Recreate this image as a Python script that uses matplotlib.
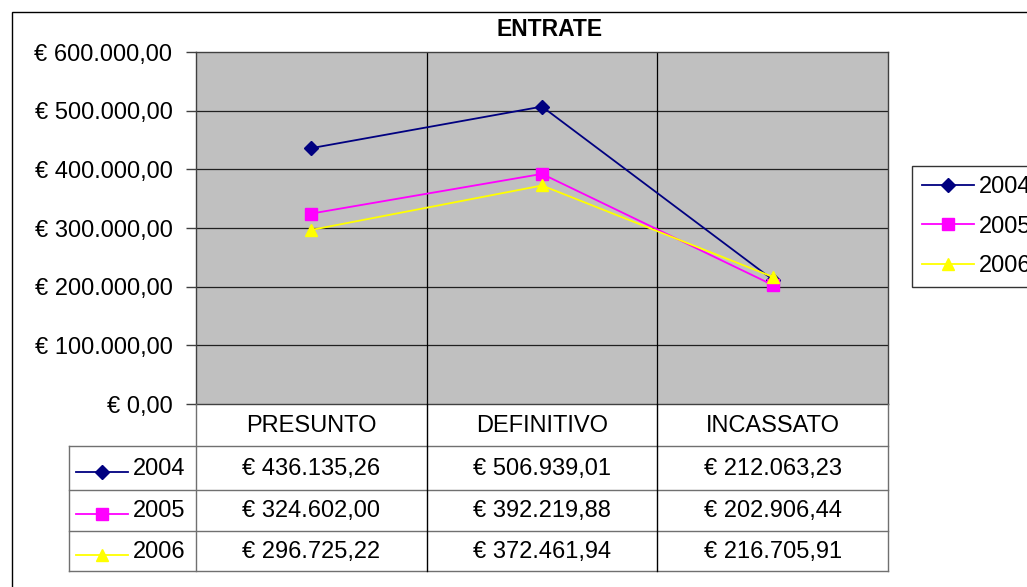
import matplotlib
matplotlib.use("Agg")
import matplotlib.pyplot as plt
from matplotlib.lines import Line2D
from matplotlib.patches import Rectangle

categories = ["PRESUNTO", "DEFINITIVO", "INCASSATO"]
series_names = ["2004", "2005", "2006"]
values_2004 = [436135.26, 506939.01, 212063.23]
values_2005 = [324602.00, 392219.88, 202906.44]
values_2006 = [296725.22, 372461.94, 216705.91]
y_ticks = [0, 100000, 200000, 300000, 400000, 500000, 600000]

series = [values_2004, values_2005, values_2006]
colors = ["#000080", "#FF00FF", "#FFFF00"]
markers = ["D", "s", "^"]
msizes = [7, 8, 8.5]

plt.rcParams['font.family'] = ['Liberation Sans', 'DejaVu Sans']
FS = 17

def eur(v):
    s = f"{v:,.2f}".replace(",", "X").replace(".", ",").replace("X", ".")
    return "€ " + s

W, H = 1027, 587
fig = plt.figure(figsize=(W / 100, H / 100), dpi=100)

def fx(px):
    return px / W

def fy(py):
    return 1 - py / H

# outer chart border
fig.patches.append(Rectangle((fx(12), fy(600)), fx(1040) - fx(12), fy(12) - fy(600),
                             transform=fig.transFigure, fill=False, edgecolor="black",
                             linewidth=1.0))

L, R, T, B = 196, 888, 52, 404
ax = fig.add_axes([fx(L), fy(B), fx(R) - fx(L), fy(T) - fy(B)])
ax.set_facecolor("#C0C0C0")
x = [i + 0.5 for i in range(len(categories))]
for vals, c, m, ms, name in zip(series, colors, markers, msizes, series_names):
    ax.plot(x, vals, color=c, marker=m, markersize=ms, markerfacecolor=c,
            markeredgecolor=c, linewidth=1.3, label=name, zorder=3)
ax.set_xlim(0, 3)
ax.set_ylim(0, 600000)
ax.set_yticks(y_ticks)
ax.set_yticklabels([eur(v) for v in y_ticks], fontsize=FS)
ax.set_xticks([])
ax.tick_params(axis="y", direction="out", length=7, width=1, pad=10, color="#404040")
for yv in y_ticks[1:-1]:
    ax.axhline(yv, color="#202020", linewidth=0.9, zorder=1)
for xv in [1, 2]:
    ax.axvline(xv, color="black", linewidth=0.9, zorder=1)
for sp in ax.spines.values():
    sp.set_color("#404040")
    sp.set_linewidth(1.0)

fig.text(fx(550), fy(30), "ENTRATE", ha="center", va="center",
         fontsize=16.5, fontweight="bold")

# legend
handles = [Line2D([0], [0], color=c, marker=m, markersize=ms, markerfacecolor=c,
                  markeredgecolor=c, linewidth=1.3)
           for c, m, ms in zip(colors, markers, msizes)]
leg = fig.legend(handles, series_names, loc="upper left",
                 bbox_to_anchor=(fx(912), fy(166)), bbox_transform=fig.transFigure,
                 fontsize=FS, frameon=True, fancybox=False, borderaxespad=0,
                 handlelength=2.2, handletextpad=0.22, labelspacing=0.75,
                 borderpad=0.42)
leg.get_frame().set_edgecolor("black")
leg.get_frame().set_linewidth(1.0)

# data table
TL, TT, TB = 69, 404, 571
tax = fig.add_axes([fx(TL), fy(TB), fx(R) - fx(TL), fy(TT) - fy(TB)])
x0 = (TL - L) / ((R - L) / 3.0)
tax.set_xlim(x0, 3)
tax.set_ylim(TB, TT)
tax.axis("off")
row_edges = [404, 446, 490, 531, 571]
gray = "#707070"
for yv in row_edges[1:]:
    tax.plot([x0, 3], [yv, yv], color=gray, linewidth=1.0, clip_on=False)
tax.plot([x0, x0], [row_edges[1], TB], color=gray, linewidth=1.0, clip_on=False)
tax.plot([0, 0], [TT, TB], color=gray, linewidth=1.0, clip_on=False)
tax.plot([3, 3], [TT, TB], color=gray, linewidth=1.0, clip_on=False)
for xv in [1, 2]:
    tax.plot([xv, xv], [TT, TB], color="black", linewidth=1.0, clip_on=False)

for i, cat in enumerate(categories):
    tax.text(i + 0.5, (row_edges[0] + row_edges[1]) / 2 + 1, cat, ha="center",
             va="center", fontsize=FS)

pxu = (R - L) / 3.0
for r, (vals, c, m, ms, name) in enumerate(zip(series, colors, markers, msizes, series_names)):
    yc = (row_edges[r + 1] + row_edges[r + 2]) / 2 + 1
    lx0 = (76 - L) / pxu
    lx1 = (128 - L) / pxu
    tax.plot([lx0, lx1], [yc + 3, yc + 3], color=c, linewidth=1.3, clip_on=False)
    tax.plot([(lx0 + lx1) / 2], [yc + 3], color=c, marker=m, markersize=ms,
             markerfacecolor=c, markeredgecolor=c, clip_on=False)
    tax.text((133 - L) / pxu, yc, name, ha="left", va="center", fontsize=FS)
    for i, v in enumerate(vals):
        tax.text(i + 0.5, yc, eur(v), ha="center", va="center", fontsize=FS)

fig.savefig("out.png", dpi=100)
